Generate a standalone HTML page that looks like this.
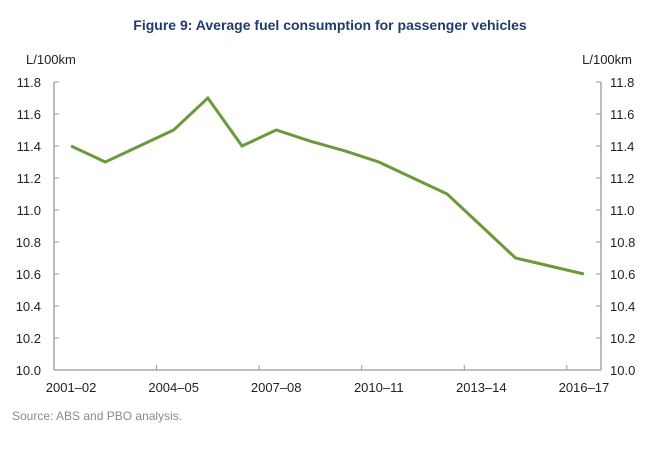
<!DOCTYPE html>
<html><head><meta charset="utf-8"><style>
body{margin:0;background:#fff;font-family:"Liberation Sans",sans-serif;}
svg text{font-family:"Liberation Sans",sans-serif;}
</style></head><body>
<svg id="chart" width="660" height="445">
<text x="330" y="30" text-anchor="middle" font-size="14" font-weight="bold" fill="#1f3c6e">Figure 9: Average fuel consumption for passenger vehicles</text>
<text x="26" y="64" font-size="13" fill="#222">L/100km</text>
<text x="632" y="64" text-anchor="end" font-size="13" fill="#222">L/100km</text>
<text x="12" y="420" font-size="12" fill="#8a8a8a">Source: ABS and PBO analysis.</text>
<g id="axes"></g>
<g id="series"></g>
</svg>
<script>
const categories=["2001–02","2002–03","2003–04","2004–05","2005–06","2006–07","2007–08","2008–09","2009–10","2010–11","2011–12","2012–13","2013–14","2014–15","2015–16","2016–17"];
const values=[11.4,11.3,11.4,11.5,11.7,11.4,11.5,11.43,11.37,11.3,11.2,11.1,10.9,10.7,10.65,10.6];
const yTicks=[10.0,10.2,10.4,10.6,10.8,11.0,11.2,11.4,11.6,11.8];
const NS="http://www.w3.org/2000/svg";
const x0=54,x1=601,y0=370,y1=82,yMin=10,yMax=11.8;
const band=(x1-x0)/categories.length;
const xs=i=>x0+band*(i+0.5);
const ys=v=>y0-(v-yMin)/(yMax-yMin)*(y0-y1);
function mk(t,a,p){const e=document.createElementNS(NS,t);for(const k in a)e.setAttribute(k,a[k]);p.appendChild(e);return e;}
const ax=document.getElementById('axes');
let l=mk('line',{x1:x0,y1:y1,x2:x0,y2:y0,stroke:'#999','stroke-width':1.3},ax);


l=mk('line',{x1:x1,y1:y1,x2:x1,y2:y0,stroke:'#999','stroke-width':1.3},ax);


l=mk('line',{x1:x0,y1:y0,x2:x1,y2:y0,stroke:'#999','stroke-width':1.3},ax);


yTicks.forEach(v=>{const y=ys(v);
 mk('line',{x1:x0,y1:y,x2:x0+5,y2:y,stroke:'#999'},ax);
 mk('line',{x1:x1-5,y1:y,x2:x1,y2:y,stroke:'#999'},ax);
 let t=mk('text',{x:x0-13,y:y+5,'text-anchor':'end','font-size':13,fill:'#222'},ax);t.textContent=v.toFixed(1);
 
 
 t=mk('text',{x:x1+9,y:y+5,'font-size':13,fill:'#222'},ax);t.textContent=v.toFixed(1);
 
 
});
categories.forEach((c,i)=>{
 if(i%3===0){
  const tx=x0+band*i;
  if(i>0)mk('line',{x1:tx,y1:y0,x2:tx,y2:y0-5,stroke:'#999'},ax);
  const t=mk('text',{x:xs(i),y:y0+22,'text-anchor':'middle','font-size':13,fill:'#222'},ax);t.textContent=c;
  
  
 }
});
const p=mk('polyline',{points:values.map((v,i)=>xs(i)+','+ys(v)).join(' '),fill:'none',stroke:'#6b9a3b','stroke-width':3,'stroke-linejoin':'miter'},document.getElementById('series'));


</script>
</body></html>
